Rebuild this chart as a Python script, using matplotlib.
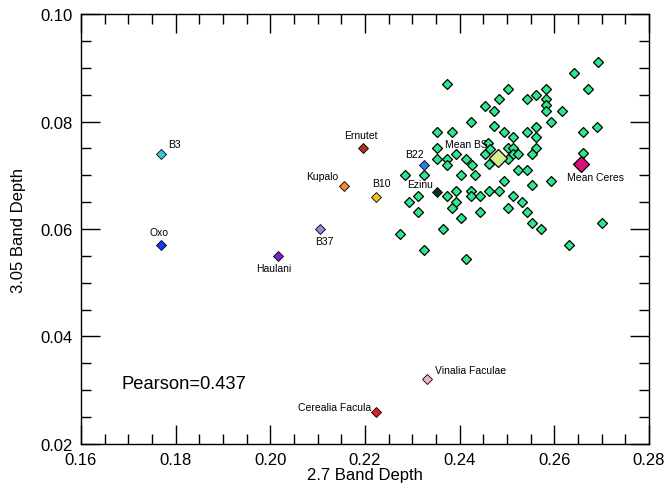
import matplotlib
matplotlib.use("Agg")
import matplotlib.pyplot as plt
from matplotlib.ticker import MultipleLocator

plt.rcParams['font.family'] = ['Liberation Sans', 'DejaVu Sans']

# Background sample points (green diamonds)
bd27 = [0.2373, 0.2423, 0.2353, 0.2384, 0.2353, 0.2353, 0.2374, 0.2393, 0.2414, 0.2373,
        0.2425, 0.2453, 0.2462, 0.2460, 0.2464, 0.2503, 0.2483, 0.2453, 0.2472, 0.2472,
        0.2493, 0.2512, 0.2542, 0.2562, 0.2583, 0.2583, 0.2583, 0.2583, 0.2617, 0.2593,
        0.2542, 0.2562, 0.2562, 0.2562, 0.2552, 0.2502, 0.2512, 0.2512, 0.2523, 0.2503,
        0.2523, 0.2542, 0.2642, 0.2692, 0.2671, 0.2661, 0.2691, 0.2661, 0.2493, 0.2552,
        0.2592, 0.2285, 0.2324, 0.2403, 0.2433, 0.2373, 0.2393, 0.2423, 0.2423, 0.2443,
        0.2463, 0.2483, 0.2512, 0.2313, 0.2294, 0.2393, 0.2383, 0.2503, 0.2313, 0.2443,
        0.2403, 0.2364, 0.2273, 0.2324, 0.2413, 0.2531, 0.2542, 0.2552, 0.2572, 0.2701,
        0.2631]
bd305 = [0.0870, 0.0800, 0.0780, 0.0780, 0.0750, 0.0730, 0.0730, 0.0740, 0.0730, 0.0719,
         0.0719, 0.0740, 0.0721, 0.0760, 0.0749, 0.0860, 0.0841, 0.0829, 0.0820, 0.0791,
         0.0780, 0.0771, 0.0841, 0.0850, 0.0860, 0.0841, 0.0830, 0.0819, 0.0819, 0.0800,
         0.0780, 0.0790, 0.0771, 0.0751, 0.0740, 0.0750, 0.0750, 0.0739, 0.0740, 0.0730,
         0.0710, 0.0710, 0.0890, 0.0910, 0.0860, 0.0781, 0.0790, 0.0741, 0.0690, 0.0681,
         0.0690, 0.0700, 0.0700, 0.0700, 0.0700, 0.0661, 0.0670, 0.0671, 0.0661, 0.0661,
         0.0670, 0.0670, 0.0661, 0.0661, 0.0651, 0.0651, 0.0640, 0.0640, 0.0631, 0.0631,
         0.0620, 0.0600, 0.0590, 0.0561, 0.0544, 0.0651, 0.0631, 0.0611, 0.0600, 0.0611,
         0.0570]

# Named features
names = ["B3", "Oxo", "Haulani", "B37", "Kupalo", "Ernutet", "B10", "B22", "Ezinu",
         "Vinalia Faculae", "Cerealia Facula"]
feat_x = [0.177, 0.177, 0.2016, 0.2104, 0.2155, 0.2195, 0.2223, 0.2324, 0.2353, 0.2331, 0.2224]
feat_y = [0.074, 0.057, 0.055, 0.060, 0.068, 0.075, 0.0659, 0.0719, 0.0669, 0.032, 0.026]
feat_colors = ["#3cc8d8", "#1a3cf0", "#7b22c8", "#8c8cd8", "#f08a30", "#b0301e", "#f0c020",
               "#2f7be0", "#0c3322", "#f2b4c4", "#e0202a"]
# label offsets in pixels (dx, dy, ha)
label_style = [(7, 10, 'left'), (-2, 13, 'center'), (-4, -12, 'center'), (5, -12, 'center'),
               (-5, 10, 'right'), (-2, 13, 'center'), (5, 14, 'center'), (0, 11, 'right'),
               (-4, 8, 'right'), (8, 9, 'left'), (-5, 5, 'right')]

mean_names = ["Mean BS", "Mean Ceres"]
mean_x = [0.2482, 0.2657]
mean_y = [0.0733, 0.0721]
mean_colors = ["#d4f08a", "#e0107a"]
mean_sizes = [9, 8]
mean_label_style = [(-11, 14, 'right'), (14, -13, 'center')]

pearson = 0.437

fig = plt.figure(figsize=(6.66, 4.89), dpi=100)
ax = fig.add_axes([0.1216, 0.0900, 0.8529, 0.8793])

ax.plot(bd27, bd305, linestyle='none', marker='D', ms=5.5, mfc='#2ee88c', mec='black', mew=0.9)

for n, x, y, c, (dx, dy, ha) in zip(names, feat_x, feat_y, feat_colors, label_style):
    ax.plot([x], [y], linestyle='none', marker='D', ms=5.5, mfc=c, mec='black', mew=0.6)
    ax.annotate(n, (x, y), xytext=(dx, dy), textcoords='offset pixels', ha=ha, va='center',
                fontsize=7.5)

for n, x, y, c, s, (dx, dy, ha) in zip(mean_names, mean_x, mean_y, mean_colors, mean_sizes,
                                       mean_label_style):
    ax.plot([x], [y], linestyle='none', marker='D', ms=s, mfc=c, mec='black', mew=0.9)
    ax.annotate(n, (x, y), xytext=(dx, dy), textcoords='offset pixels', ha=ha, va='center',
                fontsize=7.5)

ax.text(0.1686, 0.0313, f"Pearson={pearson}", fontsize=13.2, ha='left', va='center')

ax.set_xlim(0.16, 0.28)
ax.set_ylim(0.02, 0.10)
ax.xaxis.set_major_locator(MultipleLocator(0.02))
ax.xaxis.set_minor_locator(MultipleLocator(0.005))
ax.yaxis.set_major_locator(MultipleLocator(0.02))
ax.yaxis.set_minor_locator(MultipleLocator(0.005))
ax.xaxis.set_major_formatter(plt.FormatStrFormatter('%.2f'))
ax.yaxis.set_major_formatter(plt.FormatStrFormatter('%.2f'))
ax.tick_params(which='both', direction='in', top=True, right=True, labelsize=12, width=1)
ax.tick_params(which='major', length=14, pad=6)
ax.tick_params(which='minor', length=7)
for sp in ax.spines.values():
    sp.set_linewidth(1)

ax.set_xlabel("2.7 Band Depth", fontsize=12, labelpad=0)
ax.set_ylabel("3.05 Band Depth", fontsize=12, labelpad=10)

fig.savefig("out.png", dpi=100)
